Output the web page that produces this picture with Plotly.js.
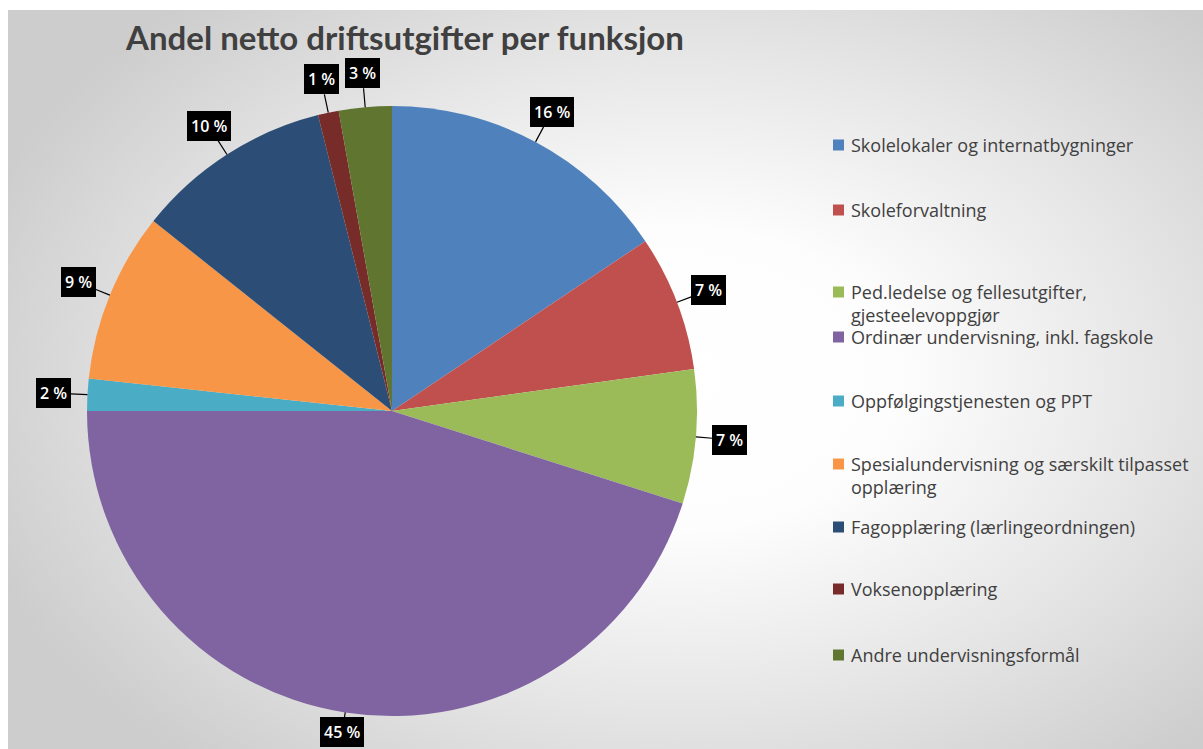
<!DOCTYPE html>
<html>
<head>
<meta charset="utf-8">
<script src="https://cdn.plot.ly/plotly-3.0.1.min.js"></script>
<style>
  html, body { margin:0; padding:0; background:#ffffff; }
  #bg { position:absolute; left:8px; top:10px; width:1195px; height:739px;
        background: radial-gradient(ellipse 62% 68% at 56% 50%, #ffffff 0%, #fdfdfd 30%, #e6e6e6 65%, #cdcdcd 100%); }
  #chart { position:absolute; left:0; top:0; width:1203px; height:749px; }
</style>
</head>
<body>
<div id="bg"></div>
<div id="chart"></div>
<script>
const categories = [
  "Skolelokaler og internatbygninger",
  "Skoleforvaltning",
  "Ped.ledelse og fellesutgifter,<br>gjesteelevoppgjør",
  "Ordinær undervisning, inkl. fagskole",
  "Oppfølgingstjenesten og PPT",
  "Spesialundervisning og særskilt tilpasset<br>opplæring",
  "Fagopplæring (lærlingeordningen)",
  "Voksenopplæring",
  "Andre undervisningsformål"
];
const shares = [15.6, 7.2, 7.1, 45.1, 1.7, 9.0, 10.4, 1.1, 2.8];
const colors = ["#4F81BD", "#C0504D", "#9BBB59", "#8064A2", "#4BACC6",
                "#F79646", "#2C4D75", "#772C2A", "#5F7530"];
const titleText = "Andel netto driftsutgifter per funksjon";

// layout geometry (pixels)
const W = 1203, H = 749;
const CX = 392, CY = 411, R = 305;
const legendX = 833, legendTextX = 851;
const legendY = [145, 210, 292, 337, 401, 464, 527, 589, 655];

const total = shares.reduce((a, b) => a + b, 0);

const trace = {
  type: "pie",
  values: shares,
  labels: categories,
  marker: { colors: colors, line: { width: 0 } },
  sort: false,
  direction: "clockwise",
  rotation: 0,
  textinfo: "none",
  hoverinfo: "label+percent",
  showlegend: false,
  domain: { x: [(CX - R) / W, (CX + R) / W], y: [1 - (CY + R) / H, 1 - (CY - R) / H] }
};

const annotations = [];
const shapes = [];

// data labels computed from slice mid-angles
let cum = 0;
shares.forEach((v, i) => {
  const mid = (cum + v / 2) / total * 2 * Math.PI;
  cum += v;
  const ex = CX + R * Math.sin(mid), ey = CY - R * Math.cos(mid);
  let d = 34;
  const c = -Math.cos(mid);
  if (c > 0 && ey + d * c > H - 17) d = (H - 17 - ey) / c;
  annotations.push({
    xref: "paper", yref: "paper",
    x: ex / W, y: 1 - ey / H,
    ax: d * Math.sin(mid), ay: -d * Math.cos(mid),
    showarrow: true, arrowhead: 0, arrowwidth: 1.2, arrowcolor: "#000000", standoff: 0,
    text: Math.round(v / total * 100) + " %",
    font: { family: "'Open Sans', sans-serif", size: 16, color: "#ffffff", weight: 600 },
    bgcolor: "#000000", borderpad: 4, bordercolor: "#000000", borderwidth: 0
  });
});

// legend
categories.forEach((c, i) => {
  const y = legendY[i];
  shapes.push({
    type: "rect", xref: "paper", yref: "paper",
    x0: legendX / W, x1: (legendX + 11) / W,
    y0: 1 - (y + 5.5) / H, y1: 1 - (y - 5.5) / H,
    fillcolor: colors[i], line: { width: 0 }
  });
  annotations.push({
    xref: "paper", yref: "paper",
    x: (legendTextX - 2) / W, y: 1 - (y - 14) / H,
    xanchor: "left", yanchor: "top", align: "left",
    showarrow: false, text: c,
    font: { family: "'Open Sans', sans-serif", size: 18, color: "#404040" }
  });
});

const layout = {
  width: W, height: H,
  margin: { l: 0, r: 0, t: 0, b: 0 },
  paper_bgcolor: "rgba(0,0,0,0)",
  plot_bgcolor: "rgba(0,0,0,0)",
  title: {
    text: "<b>" + titleText + "</b>",
    x: 405 / W, xanchor: "center", xref: "paper",
    y: 1 - 38 / H, yanchor: "middle", yref: "paper",
    font: { family: "Lato, sans-serif", size: 33, color: "#404040" }
  },
  showlegend: false,
  annotations: annotations,
  shapes: shapes
};

Plotly.newPlot("chart", [trace], layout, { displayModeBar: false, staticPlot: true });
</script>
</body>
</html>
